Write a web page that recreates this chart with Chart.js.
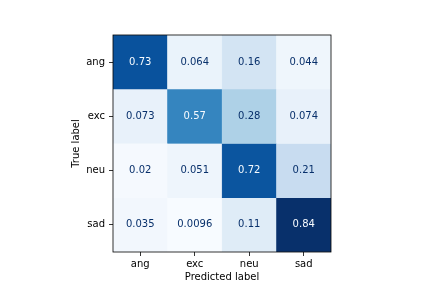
<!DOCTYPE html>
<html>
<head>
<meta charset="utf-8">
<script src="https://cdn.jsdelivr.net/npm/chart.js@4/dist/chart.umd.min.js"></script>
<style>
html,body{margin:0;padding:0;background:#fff;}
#wrap{width:432px;height:288px;}
</style>
</head>
<body>
<div id="wrap"><canvas id="c" width="432" height="288"></canvas></div>
<script>
const predictedLabels = ['ang', 'exc', 'neu', 'sad'];
const trueLabels = ['ang', 'exc', 'neu', 'sad'];
const rowAng = [0.73, 0.064, 0.16, 0.044];
const rowExc = [0.073, 0.57, 0.28, 0.074];
const rowNeu = [0.02, 0.051, 0.72, 0.21];
const rowSad = [0.035, 0.0096, 0.11, 0.84];
const valueText = [
  ['0.73', '0.064', '0.16', '0.044'],
  ['0.073', '0.57', '0.28', '0.074'],
  ['0.02', '0.051', '0.72', '0.21'],
  ['0.035', '0.0096', '0.11', '0.84']
];
const rows = [rowAng, rowExc, rowNeu, rowSad];

const bluesStops = ['#f7fbff','#deebf7','#c6dbef','#9ecae1','#6baed6','#4292c6','#2171b5','#08519c','#08306b'];
function hexToRgb(h){return [parseInt(h.slice(1,3),16),parseInt(h.slice(3,5),16),parseInt(h.slice(5,7),16)];}
function blues(t){
  t = Math.max(0, Math.min(1, t));
  let idx = Math.min(255, Math.floor(t*256));
  t = idx/255;
  const p = t*(bluesStops.length-1);
  const i = Math.min(bluesStops.length-2, Math.floor(p));
  const f = p - i;
  const a = hexToRgb(bluesStops[i]), b = hexToRgb(bluesStops[i+1]);
  const c = a.map((v,k)=>Math.round(v + (b[k]-v)*f));
  return 'rgb('+c.join(',')+')';
}
const allVals = rows.flat();
const vmin = Math.min(...allVals), vmax = Math.max(...allVals);
const thresh = (vmin + vmax) / 2;

const datasets = rows.map((row, r) => ({
  label: trueLabels[r],
  data: row.map(() => [r, r + 1]),
  backgroundColor: row.map(v => blues((v - vmin) / (vmax - vmin))),
  borderColor: row.map(v => blues((v - vmin) / (vmax - vmin))),
  borderWidth: 0.5,
  borderSkipped: false,
  grouped: false,
  barPercentage: 1,
  categoryPercentage: 1
}));

const textPlugin = {
  id: 'cmText',
  afterDatasetsDraw(chart) {
    const ctx = chart.ctx;
    const xs = chart.scales.x, ys = chart.scales.y;
    ctx.save();
    ctx.font = '10px "DejaVu Sans"';
    ctx.textAlign = 'center';
    ctx.textBaseline = 'middle';
    rows.forEach((row, r) => {
      row.forEach((v, c) => {
        ctx.fillStyle = v < thresh ? '#08306b' : '#f7fbff';
        ctx.fillText(valueText[r][c], xs.getPixelForValue(c), ys.getPixelForValue(r + 0.5));
      });
    });
    const a = chart.chartArea;
    ctx.strokeStyle = '#000';
    ctx.lineWidth = 0.8;
    ctx.strokeRect(a.left, a.top, a.right - a.left, a.bottom - a.top);
    ctx.restore();
  }
};

new Chart(document.getElementById('c'), {
  type: 'bar',
  data: { labels: predictedLabels, datasets },
  options: {
    responsive: false,
    animation: false,
    devicePixelRatio: 1,
    layout: { padding: { left: 70, top: 35, right: 101, bottom: 5 } },
    plugins: { legend: { display: false }, tooltip: { enabled: false } },
    scales: {
      x: {
        type: 'category',
        offset: true,
        grid: { drawOnChartArea: false, offset: false, drawTicks: true, tickLength: 4, color: '#000', lineWidth: 0.8 },
        border: { display: false },
        ticks: { color: '#000', font: { family: 'DejaVu Sans', size: 10 }, padding: 2, maxRotation: 0 },
        title: { display: true, text: 'Predicted label', color: '#000', font: { family: 'DejaVu Sans', size: 10 }, padding: 0 },
        afterFit(s) { s.height = 31; }
      },
      y: {
        type: 'linear',
        min: 0, max: 4,
        reverse: true,
        grid: { drawOnChartArea: false, drawTicks: true, tickLength: 4, color: '#000', lineWidth: 0.8 },
        border: { display: false },
        afterBuildTicks(s) { s.ticks = [0.5, 1.5, 2.5, 3.5].map(v => ({ value: v })); },
        ticks: { color: '#000', font: { family: 'DejaVu Sans', size: 10 }, padding: 4,
                 callback: (v) => trueLabels[Math.floor(v)] },
        title: { display: true, text: 'True label', color: '#000', font: { family: 'DejaVu Sans', size: 10 }, padding: 0 },
        afterFit(s) { s.width = 43; }
      }
    }
  },
  plugins: [textPlugin]
});
</script>
</body>
</html>
